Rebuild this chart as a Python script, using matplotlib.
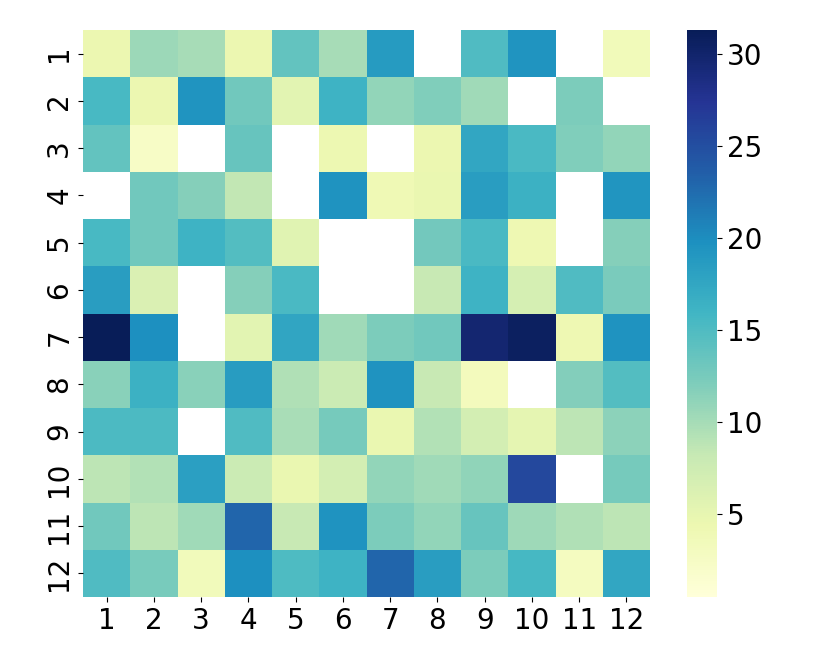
import numpy as np
import matplotlib
matplotlib.use("Agg")
import matplotlib.pyplot as plt
import seaborn as sns

nan = np.nan

# row / column labels
row_labels = [str(x) for x in range(1, 13)]
col_labels = [str(x) for x in range(1, 13)]

# values, one list per row (nan = empty cell)
row1 = [4.5, 10.6, 10.0, 4.5, 13.8, 10.0, 18.7, nan, 15.0, 19.5, nan, 3.6]
row2 = [15.5, 4.5, 19.5, 13.0, 5.5, 16.2, 11.0, 12.0, 10.3, nan, 12.2, nan]
row3 = [13.8, 2.4, nan, 13.5, nan, 4.3, nan, 4.5, 17.5, 15.3, 12.0, 11.0]
row4 = [nan, 13.0, 11.7, 8.5, nan, 19.6, 4.0, 4.6, 18.5, 16.5, nan, 19.3]
row5 = [15.5, 13.0, 16.2, 14.8, 5.7, nan, nan, 12.8, 15.4, 4.2, nan, 11.8]
row6 = [18.5, 6.3, nan, 11.7, 15.3, nan, nan, 8.2, 16.2, 6.8, 15.0, 12.3]
row7 = [31.3, 19.8, nan, 5.5, 17.7, 10.3, 12.2, 13.0, 29.7, 30.7, 4.2, 19.6]
row8 = [11.5, 16.5, 11.5, 18.6, 9.5, 7.8, 19.6, 8.2, 3.2, nan, 11.9, 14.8]
row9 = [15.2, 15.2, nan, 15.0, 9.8, 12.6, 4.6, 9.3, 7.0, 5.2, 8.8, 11.4]
row10 = [8.8, 9.3, 18.2, 7.8, 4.6, 7.0, 11.0, 10.3, 11.1, 25.6, nan, 12.6]
row11 = [13.0, 8.8, 10.3, 23.0, 8.2, 19.6, 12.2, 11.0, 13.6, 10.4, 9.5, 8.8]
row12 = [15.0, 12.5, 3.5, 19.8, 15.1, 16.2, 23.0, 18.5, 12.2, 15.6, 3.0, 17.5]

data = np.array([row1, row2, row3, row4, row5, row6,
                 row7, row8, row9, row10, row11, row12])

fig = plt.figure(figsize=(8.3, 6.64), dpi=100)
ax = fig.add_axes([83/830, 1 - 597/664, 567/830, 567/664])
cax = fig.add_axes([687/830, 1 - 597/664, 30/830, 567/664])

sns.heatmap(data, cmap="YlGnBu", vmin=0.5, vmax=31.3,
            xticklabels=col_labels, yticklabels=row_labels,
            ax=ax, cbar_ax=cax)

ax.tick_params(labelsize=20)
ax.set_yticklabels(row_labels, rotation=90, va="center")
cax.tick_params(labelsize=20)

plt.savefig("out.png", dpi=100)
